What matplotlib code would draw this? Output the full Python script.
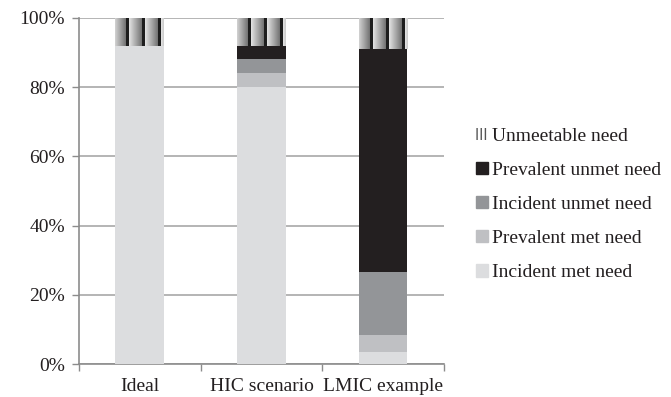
import matplotlib
matplotlib.use("Agg")
import matplotlib.pyplot as plt
import numpy as np
from matplotlib.patches import Patch

categories = ["Ideal", "HIC scenario", "LMIC example"]
incident_met = [92, 80, 3.5]
prevalent_met = [0, 4, 5]
incident_unmet = [0, 4, 18]
prevalent_unmet = [0, 4, 64.5]
unmeetable = [8, 8, 9]
yticks = [0, 20, 40, 60, 80, 100]
ytick_labels = ["0%", "20%", "40%", "60%", "80%", "100%"]

series = [
    ("Incident met need", incident_met, "#dcdddf"),
    ("Prevalent met need", prevalent_met, "#bfc0c3"),
    ("Incident unmet need", incident_unmet, "#939598"),
    ("Prevalent unmet need", prevalent_unmet, "#231f20"),
]

plt.rcParams['font.family'] = ['Liberation Serif', 'DejaVu Serif']
FS = 14
fig = plt.figure(figsize=(6.71, 3.97), dpi=100)
ax = fig.add_axes([0.1177, 0.083, 0.544, 0.872])

x = np.arange(len(categories))
width = 0.4
bottom = np.zeros(len(categories))
for name, vals, col in series:
    ax.bar(x, vals, width, bottom=bottom, color=col, zorder=3, linewidth=0)
    bottom += np.array(vals)

# unmeetable with striped gradient
profile = []
period = 16
for i in range(49):
    p = (i + 2) % period
    if p >= period - 3:
        v = 0.12
    else:
        v = 0.88 - 0.45 * (p / (period - 3))
    profile.append(v)
img = np.array(profile)[None, :]
ubars = ax.bar(x, unmeetable, width, bottom=bottom, color="white", zorder=3, linewidth=0)
for b in ubars:
    x0, y0 = b.get_x(), b.get_y()
    im = ax.imshow(img, cmap="gray", vmin=0, vmax=1, aspect="auto",
                   extent=[x0, x0 + b.get_width(), y0, y0 + b.get_height()],
                   zorder=4, interpolation="bilinear")
    im.set_clip_path(b)

ax.set_xlim(-0.5, 2.5)
ax.set_ylim(0, 100)
ax.set_yticks(yticks)
ax.set_yticklabels(ytick_labels, fontsize=FS, color="#231f20")
ax.set_xticks(x)
ax.set_xticklabels(categories, fontsize=FS, color="#231f20")
ax.tick_params(axis="x", length=0, pad=10)
ax.tick_params(axis="y", length=5, color="#8c8c8c", width=1, pad=5)
ax.set_xticks([-0.5, 0.5, 1.5, 2.5], minor=True)
ax.tick_params(axis="x", which="minor", length=5, color="#8c8c8c", width=1, direction="out")
ax.yaxis.grid(True, color="#a8a8a8", linewidth=1.2, zorder=0)
ax.set_axisbelow(True)
for s in ["top", "right"]:
    ax.spines[s].set_visible(False)
for s in ["left", "bottom"]:
    ax.spines[s].set_color("#8c8c8c")
    ax.spines[s].set_linewidth(1.2)

handles = [Patch(facecolor="white", edgecolor="#555555", hatch="||||", linewidth=0, label="Unmeetable need")]
for name, vals, col in reversed(series):
    handles.append(Patch(facecolor=col, edgecolor=col, label=name))
leg = fig.legend(handles=handles, loc="center left", bbox_to_anchor=(0.71, 0.485),
                 frameon=False, fontsize=FS, handlelength=0.6, handleheight=0.6,
                 handletextpad=0.2, labelspacing=0.88, borderaxespad=0, borderpad=0)
for t in leg.get_texts():
    t.set_color("#231f20")

fig.savefig("out.png", dpi=100)
